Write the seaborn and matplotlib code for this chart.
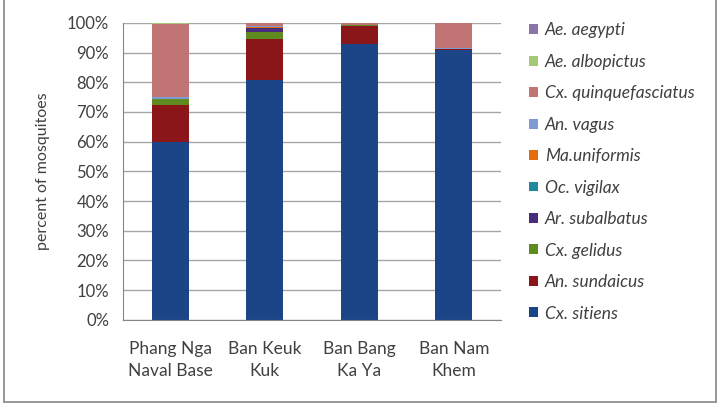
import pandas as pd
import matplotlib.pyplot as plt
from matplotlib.patches import Patch
from matplotlib.lines import Line2D
from matplotlib.ticker import PercentFormatter, FixedLocator
import seaborn as sns

# Sites (x categories)
sites = ["Phang Nga\nNaval Base", "Ban Keuk\nKuk", "Ban Bang\nKa Ya", "Ban Nam\nKhem"]

# Species, bottom of the stack first
species = ["Cx. sitiens", "An. sundaicus", "Cx. gelidus", "Ar. subalbatus", "Oc. vigilax",
           "Ma.uniformis", "An. vagus", "Cx. quinquefasciatus", "Ae. albopictus", "Ae. aegypti"]

# Percent of mosquitoes per site
cx_sitiens = [60.0, 80.8, 93.0, 91.0]
an_sundaicus = [12.4, 13.6, 5.8, 0.3]
cx_gelidus = [2.0, 2.6, 0.5, 0.0]
ar_subalbatus = [0.0, 1.2, 0.0, 0.0]
oc_vigilax = [0.0, 0.2, 0.0, 0.0]
ma_uniformis = [0.0, 0.1, 0.1, 0.0]
an_vagus = [0.5, 0.4, 0.0, 0.1]
cx_quinque = [24.8, 1.1, 0.5, 8.6]
ae_albopictus = [0.3, 0.1, 0.1, 0.0]
ae_aegypti = [0.0, 0.0, 0.0, 0.0]

values = [cx_sitiens, an_sundaicus, cx_gelidus, ar_subalbatus, oc_vigilax,
          ma_uniformis, an_vagus, cx_quinque, ae_albopictus, ae_aegypti]

colors = ["#1c4587", "#8b161a", "#5f8a1f", "#4a2c7c", "#1f8a9c",
          "#e46c0a", "#7b9bd2", "#c07474", "#a3c878", "#8c74aa"]

rows = []
for sp, vals in zip(species, values):
    for site, v in zip(sites, vals):
        rows.append({"site": site, "species": sp, "pct": v})
df = pd.DataFrame(rows)

sns.set_style("white")
plt.rcParams['font.family'] = ['Lato', 'DejaVu Sans']
plt.rcParams['text.color'] = '#404040'

fig = plt.figure(figsize=(7.2, 4.08), dpi=100)
ax = fig.add_axes([0.171, 0.216, 0.525, 0.728])

# histplot stacks the first hue level on top, so pass the order top-down
sns.histplot(data=df, x="site", hue="species", weights="pct", multiple="stack",
             hue_order=species[::-1], palette=dict(zip(species, colors)),
             discrete=True, shrink=0.39, alpha=1, linewidth=0, legend=False, ax=ax)

ax.set_xlim(-0.5, 3.5)
ax.set_ylim(0, 100)
ax.yaxis.set_major_locator(FixedLocator(range(0, 101, 10)))
ax.yaxis.set_major_formatter(PercentFormatter(decimals=0))
ax.yaxis.grid(True, color="#a6a6a6", linewidth=1)
ax.set_axisbelow(True)
ax.set_xticks(range(len(sites)))
ax.set_xticklabels(sites, fontsize=12.5, color="#404040", linespacing=1.5)
ax.set_xticks([-0.5, 0.5, 1.5, 2.5, 3.5], minor=True)
ax.tick_params(axis="x", which="major", length=0, pad=15)
ax.tick_params(axis="x", which="minor", length=5, color="#868686", width=1)
ax.tick_params(axis="y", length=6, color="#868686", labelsize=12, labelcolor="#404040", pad=4)
for s in ["top", "right"]:
    ax.spines[s].set_visible(False)
for s in ["left", "bottom"]:
    ax.spines[s].set_color("#868686")
ax.set_xlabel("")
ax.set_ylabel("percent of mosquitoes", fontsize=11.5, color="#404040", labelpad=12)

handles = [Patch(facecolor=c, edgecolor="none") for c in colors][::-1]
labels = species[::-1]
fig.legend(handles, labels, loc="upper left", bbox_to_anchor=(0.735, 0.945),
           frameon=False, prop={"style": "italic", "size": 12.5},
           borderpad=0, borderaxespad=0,
           handlelength=0.5, handleheight=0.5, handletextpad=0.4, labelspacing=0.89)

# outer chart frame
frame_kw = dict(transform=fig.transFigure, color="#868686", linewidth=1.2)
fig.add_artist(Line2D([0.006, 0.006], [0.015, 1.0], **frame_kw))
fig.add_artist(Line2D([0.994, 0.994], [0.015, 1.0], **frame_kw))
fig.add_artist(Line2D([0.006, 0.994], [0.015, 0.015], **frame_kw))

fig.savefig("out.png", dpi=100)
